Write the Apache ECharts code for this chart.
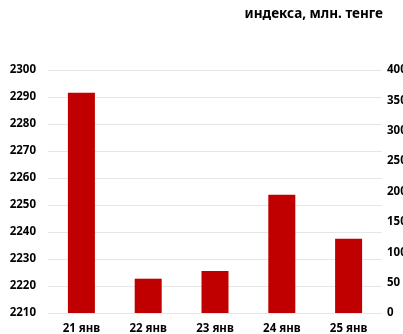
<!DOCTYPE html>
<html>
	<head>
		<meta charset="utf-8">
		<title>Объем торгов</title>
		<script src="https://cdn.jsdelivr.net/npm/echarts@6/dist/echarts.min.js"></script>
		<style type="text/css">
			html, body {
				margin: 0;
				padding: 0;
				background: #fff;
			}

			#chart {
				width: 403px;
				height: 334px;
			}
		</style>
	</head>

	<body>
		<div id="chart"></div>

		<script>
			// данные
			var days = ['21 янв', '22 янв', '23 янв', '24 янв', '25 янв'];
			var volume = [2291.6, 2222.7, 2225.6, 2253.8, 2237.5];
			var leftMin = 2210, leftMax = 2300, leftStep = 10;
			var rightMin = 0, rightMax = 400, rightStep = 50;
			var titleLines = ['Объем торгов акциями представительского списка', 'индекса, млн. тенге'];

			var chart = echarts.init(document.getElementById('chart'));

			var labelFont = {
				color: '#000',
				fontWeight: 'bold',
				fontSize: 11.5,
				fontFamily: 'Noto Sans'
			};

			// без разделителя тысяч
			function plain(v) {
				return String(v);
			}

			chart.setOption({
				animation: false,
				graphic: [{
						type: 'text',
						right: 20,
						top: -15,
						style: {
							text: titleLines[0],
							fill: '#000',
							font: 'bold 13.5px "Noto Sans"'
						}
					},
					{
						type: 'text',
						right: 20,
						top: 7,
						style: {
							text: titleLines[1],
							fill: '#000',
							font: 'bold 13.5px "Noto Sans"'
						}
					}
				],
				grid: {
					left: 48,
					right: 21,
					top: 70,
					bottom: 21,
					containLabel: false,
					outerBoundsMode: 'none'
				},
				xAxis: {
					type: 'category',
					data: days,
					axisTick: { show: false },
					axisLine: { lineStyle: { color: '#e6e6e6', width: 1 } },
					axisLabel: Object.assign({ margin: 10 }, labelFont)
				},
				yAxis: [{
						type: 'value',
						min: leftMin,
						max: leftMax,
						interval: leftStep,
						axisLine: { show: false },
						axisTick: { show: false },
						splitLine: { lineStyle: { color: '#e6e6e6', width: 1 } },
						axisLabel: Object.assign({ margin: 12, formatter: plain }, labelFont)
					},
					{
						type: 'value',
						min: rightMin,
						max: rightMax,
						interval: rightStep,
						axisLine: { show: false },
						axisTick: { show: false },
						splitLine: { show: false },
						axisLabel: Object.assign({ margin: 5, formatter: plain }, labelFont)
					}
				],
				series: [{
					type: 'bar',
					data: volume,
					yAxisIndex: 0,
					barWidth: 27,
					itemStyle: {
						color: '#c00000'
					}
				}]
			});
		</script>
	</body>
</html>
